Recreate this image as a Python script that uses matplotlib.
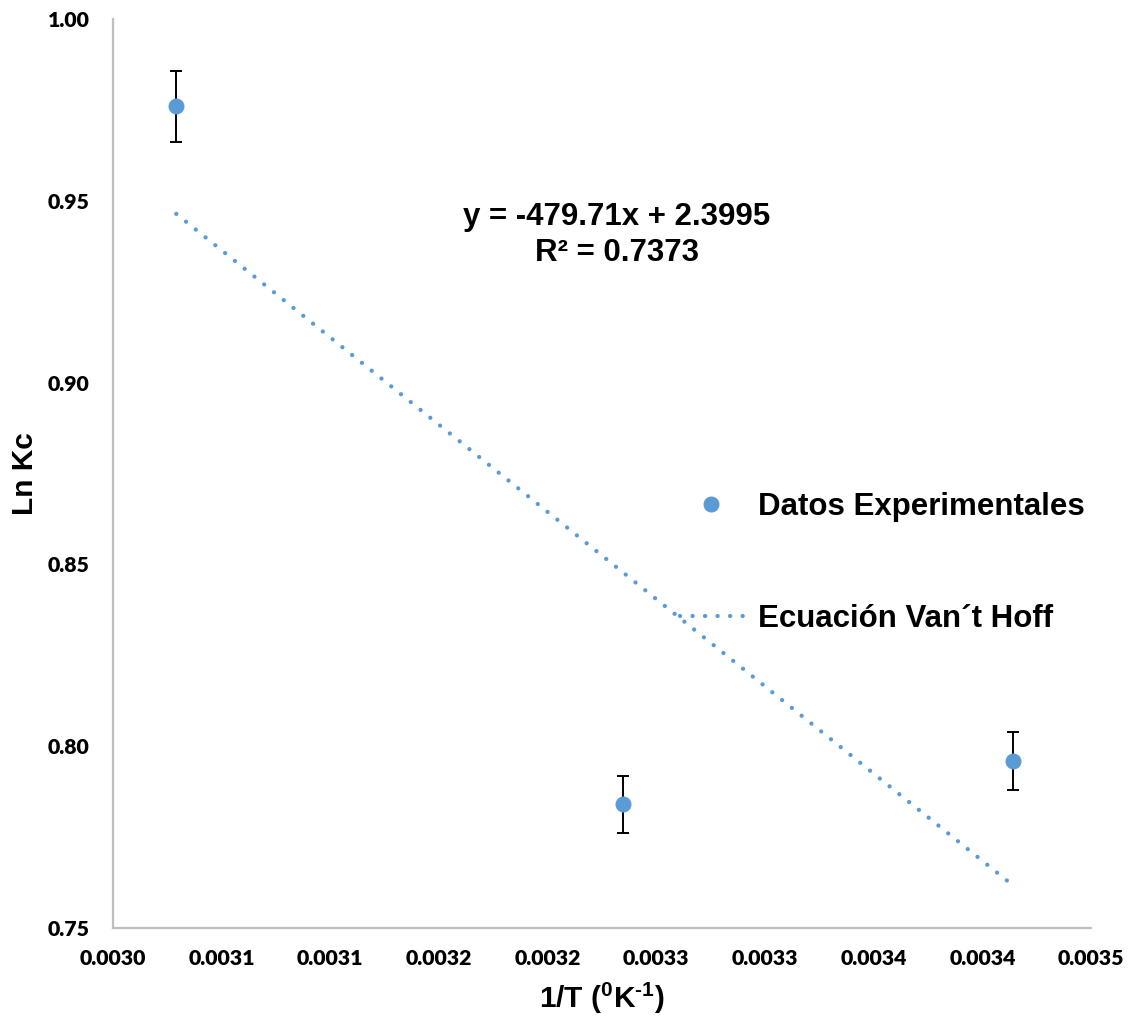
import numpy as np
import matplotlib
matplotlib.use("Agg")
import matplotlib.pyplot as plt
from matplotlib.lines import Line2D

# Experimental data: ln Kc versus 1/T
inv_T = [0.0030291, 0.0032348, 0.0034140]
ln_kc = [0.976, 0.784, 0.796]
ln_kc_err = [0.0098, 0.0078, 0.0080]

# Linear fit (Van't Hoff) coefficients
slope = -479.71
intercept = 2.3995
r_squared = 0.7373

x_ticks = [0.0030 + i * 0.00005 for i in range(10)]
x_tick_labels = ["0.0030", "0.0031", "0.0031", "0.0032", "0.0032",
                 "0.0033", "0.0033", "0.0034", "0.0034", "0.0035"]
y_ticks = [0.75, 0.80, 0.85, 0.90, 0.95, 1.00]
y_tick_labels = ["0.75", "0.80", "0.85", "0.90", "0.95", "1.00"]

BLUE = "#5B9BD5"
W, H = 1137, 1019
DOTS = (0, (0.01, 2.9))

plt.rcParams["font.family"] = ["Liberation Sans", "DejaVu Sans"]
plt.rcParams["font.weight"] = "bold"
plt.rcParams["mathtext.fontset"] = "custom"
plt.rcParams["mathtext.rm"] = "Liberation Sans:bold"
plt.rcParams["mathtext.bf"] = "Liberation Sans:bold"
plt.rcParams["mathtext.default"] = "bf"

fig = plt.figure(figsize=(W / 100, H / 100), dpi=100)
ax = fig.add_axes([113 / W, 1 - 928 / H, (1091 - 113) / W, (928 - 19) / H])

# Trendline across the data range
xf = np.array([min(inv_T), max(inv_T)])
yf = slope * xf + intercept
ax.plot(xf, yf, color=BLUE, lw=3.1, linestyle=DOTS,
        dash_capstyle="round", zorder=2)

# Data points with error bars
ax.errorbar(inv_T, ln_kc, yerr=ln_kc_err, fmt="o", color=BLUE,
            markersize=10.5, ecolor="black", elinewidth=1.4,
            capsize=4.6, capthick=1.4, zorder=3)

ax.set_xlim(0.0030, 0.00345)
ax.set_ylim(0.75, 1.00)
ax.set_xticks(x_ticks)
ax.set_xticklabels(x_tick_labels)
ax.set_yticks(y_ticks)
ax.set_yticklabels(y_tick_labels)

for lbl in ax.get_xticklabels() + ax.get_yticklabels():
    lbl.set_fontfamily("Lato")
    lbl.set_fontweight("heavy")
    lbl.set_fontsize(15.3)
ax.tick_params(axis="both", length=0, colors="black")
ax.tick_params(axis="x", pad=15)
ax.tick_params(axis="y", pad=17)

for side in ("top", "right"):
    ax.spines[side].set_visible(False)
for side in ("left", "bottom"):
    ax.spines[side].set_color("#BFBFBF")
    ax.spines[side].set_linewidth(1.6)

fig.text(25 / W, 1 - 474 / H, "Ln Kc", rotation=90, ha="center", va="center",
         fontsize=21.5, fontweight="bold")
fig.text(602 / W, 1 - 998 / H, r"1/T ($^{0}$K$^{\text{-1}}$)", ha="center",
         va="center", fontsize=21.5, fontweight="bold")

# Fit equation and R²
fig.text(617 / W, 1 - 235 / H,
         f"y = {slope:.2f}x + {intercept:.4f}\nR² = {r_squared:.4f}",
         ha="center", va="center", multialignment="center",
         fontsize=22.5, fontweight="bold", linespacing=1.3)

handles = [
    Line2D([], [], marker="o", linestyle="none", color=BLUE, markersize=10.5),
    Line2D([], [], color=BLUE, lw=3.1, linestyle=DOTS, dash_capstyle="round"),
]
leg = fig.legend(handles, ["Datos Experimentales", "Ecuación Van´t Hoff"],
                 loc="center left", bbox_to_anchor=(680 / W, 1 - 563 / H),
                 frameon=False, borderpad=0, borderaxespad=0,
                 handlelength=2.0, handletextpad=0.5, labelspacing=2.65,
                 prop=dict(family="Liberation Sans", weight="bold", size=22.5))

fig.savefig("out.png", dpi=100, facecolor="white")
